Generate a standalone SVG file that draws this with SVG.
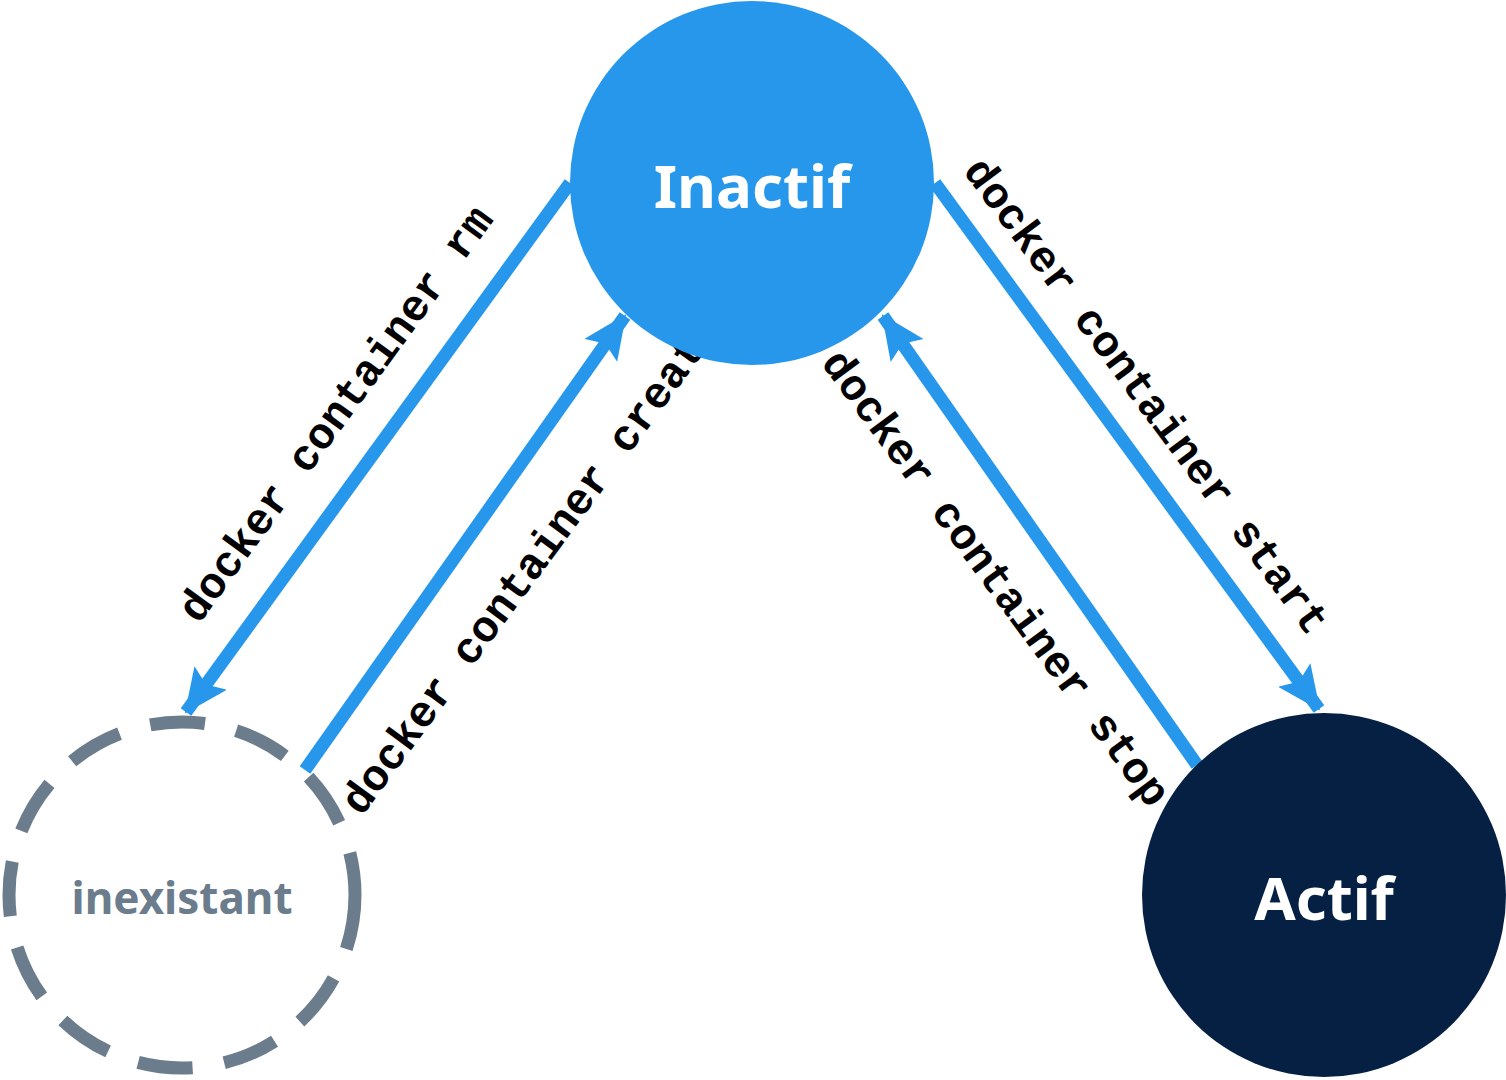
<svg xmlns="http://www.w3.org/2000/svg" width="1506" height="1080" viewBox="0 0 1506 1080">
<style>
.e{stroke:#2797EC;stroke-width:13;fill:none;marker-end:url(#a)}
.l{font-family:"Liberation Mono",monospace;font-weight:bold;font-size:44px;fill:#000;dominant-baseline:central}
.n{font-family:"Noto Sans","DejaVu Sans",sans-serif;font-weight:bold;text-anchor:middle;dominant-baseline:central}
</style>
<defs><marker id="a" markerUnits="userSpaceOnUse" markerWidth="50" markerHeight="50" refX="42" refY="20" orient="auto"><path d="M0,0 L44,20 L0,40 L8,20 Z" fill="#2797EC"/></marker></defs>
<rect width="1506" height="1080" fill="#fff"/>
<g id="connectors">
<line class="e" x1="570" y1="183" x2="186" y2="712"/>
<line class="e" x1="305" y1="770" x2="625" y2="316"/>
<line class="e" x1="935" y1="183" x2="1319" y2="709"/>
<line class="e" x1="1197" y1="765" x2="883" y2="316"/>
<text class="l" text-anchor="middle" transform="translate(337,415) rotate(-53.9)">docker container rm</text>
<text class="l" transform="translate(352,810) rotate(-53.6)">docker container create</text>
<text class="l" text-anchor="middle" transform="translate(1145,397) rotate(53.4)">docker container start</text>
<text class="l" transform="translate(830,356) rotate(53.6)">docker container stop</text>
</g>
<g id="inactif"><circle cx="752" cy="183" r="182" fill="#2797EC"/><text class="n" x="752" y="185" font-size="60" fill="#fff">Inactif</text></g>
<g id="actif"><circle cx="1324" cy="895" r="182" fill="#062044"/><text class="n" x="1324" y="897" font-size="60" fill="#fff">Actif</text></g>
<g id="inexistant"><circle cx="182" cy="895" r="173" fill="none" stroke="#6B7C8C" stroke-width="13" stroke-dasharray="55,32"/><text class="n" x="182" y="897" font-size="44" fill="#6B7C8C">inexistant</text></g>
</svg>
